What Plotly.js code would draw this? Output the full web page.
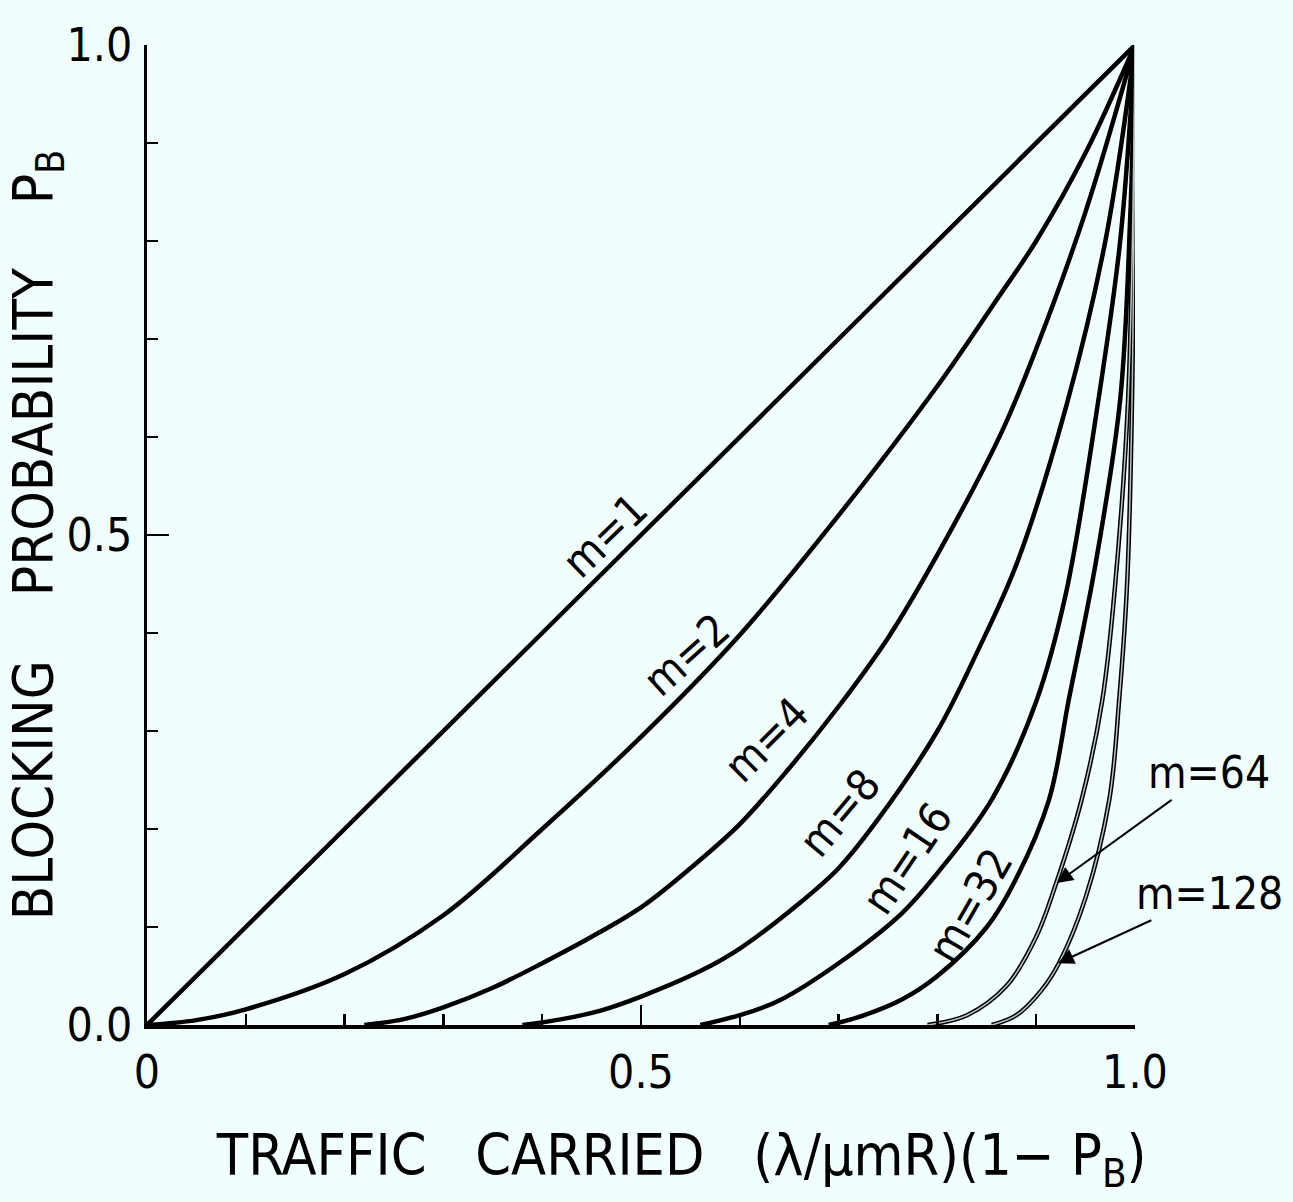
<!DOCTYPE html>
<html>
<head>
<meta charset="utf-8">
<script src="https://cdn.plot.ly/plotly-3.0.1.min.js"></script>
<style>
  html, body { margin: 0; padding: 0; background: #f0fffe; }
  #chart { width: 1293px; height: 1202px; }
</style>
</head>
<body>
<div id="chart"></div>
<script>
// ---- data ----
const seriesNames = ["m=1", "m=2", "m=4", "m=8", "m=16", "m=32", "m=64", "m=128"];

const x_m1 = [0, 0.25, 0.5, 0.75, 1.0];
const y_m1 = [0, 0.25, 0.5, 0.75, 1.0];

const x_m2 = [0, 0.05, 0.1, 0.2, 0.3, 0.4, 0.5, 0.6, 0.7, 0.8, 0.86, 0.9, 0.95, 1.0];
const y_m2 = [0, 0.005, 0.016, 0.052, 0.112, 0.200, 0.294, 0.398, 0.520, 0.652, 0.740, 0.800, 0.890, 1.0];

const x_m4 = [0.22, 0.26, 0.3, 0.35, 0.4, 0.45, 0.5, 0.55, 0.6, 0.65, 0.7, 0.75, 0.8, 0.865, 0.9, 0.95, 1.0];
const y_m4 = [0, 0.006, 0.018, 0.038, 0.063, 0.090, 0.120, 0.160, 0.205, 0.262, 0.325, 0.395, 0.480, 0.605, 0.690, 0.830, 1.0];

const x_m8 = [0.38, 0.42, 0.46, 0.5, 0.56, 0.6, 0.66, 0.7, 0.74, 0.8, 0.84, 0.88, 0.93, 0.97, 1.0];
const y_m8 = [0, 0.006, 0.015, 0.029, 0.055, 0.078, 0.124, 0.160, 0.210, 0.300, 0.380, 0.470, 0.630, 0.800, 1.0];

const x_m16 = [0.56, 0.6, 0.64, 0.7, 0.764, 0.8, 0.855, 0.9, 0.93, 0.963, 0.985, 1.0];
const y_m16 = [0, 0.010, 0.025, 0.063, 0.114, 0.155, 0.230, 0.330, 0.440, 0.638, 0.800, 1.0];

const x_m32 = [0.69, 0.72, 0.764, 0.8, 0.85, 0.88, 0.913, 0.933, 0.96, 0.985, 0.995, 1.0];
const y_m32 = [0, 0.008, 0.026, 0.050, 0.100, 0.150, 0.230, 0.332, 0.470, 0.638, 0.820, 1.0];

const x_m64 = [0.79, 0.83, 0.87, 0.9, 0.919, 0.946, 0.967, 0.98, 0.993, 1.0];
const y_m64 = [0, 0.010, 0.040, 0.090, 0.141, 0.230, 0.332, 0.450, 0.638, 1.0];

const x_m128 = [0.855, 0.88, 0.905, 0.923, 0.95, 0.974, 0.984, 0.992, 0.997, 1.0];
const y_m128 = [0, 0.010, 0.035, 0.063, 0.130, 0.230, 0.332, 0.450, 0.638, 1.0];

const xTickVals = [0, 0.5, 1.0];
const xTickText = ["0", "0.5", "1.0"];
const yTickVals = [0, 0.5, 1.0];
const yTickText = ["0.0", "0.5", "1.0"];

// ---- styling ----
const FONT = "'DejaVu Sans Condensed', 'DejaVu Sans', sans-serif";
const INK = "#000000";
const BG = "#f0fffe";
const NB = "\u00A0";
const ZW = "\u200B";

const xs = [x_m1, x_m2, x_m4, x_m8, x_m16, x_m32, x_m64, x_m128];
const ys = [y_m1, y_m2, y_m4, y_m8, y_m16, y_m32, y_m64, y_m128];

const traces = [];
xs.forEach((xv, i) => {
  traces.push({
    type: "scatter", mode: "lines", name: seriesNames[i],
    x: xv, y: ys[i],
    line: { color: INK, width: 4.5, shape: "spline", smoothing: 1.0 },
    hoverinfo: "name+x+y", showlegend: false
  });
});
// pale core for the two outlined curves (m=64, m=128)
[6, 7].forEach(i => {
  traces.push({
    type: "scatter", mode: "lines", name: seriesNames[i] + " core",
    x: xs[i], y: ys[i],
    line: { color: "#b8c4c4", width: 1.5, shape: "spline", smoothing: 1.0 },
    hoverinfo: "skip", showlegend: false
  });
});

const labelFont = { family: FONT, size: 44, color: INK };
const annotations = [
  { x: 0.463, y: 0.500, text: "m=1", textangle: -44 },
  { x: 0.546, y: 0.378, text: "m=2", textangle: -42 },
  { x: 0.627, y: 0.291, text: "m=4", textangle: -45 },
  { x: 0.701, y: 0.217, text: "m=8", textangle: -50 },
  { x: 0.769, y: 0.170, text: "m=16", textangle: -56 },
  { x: 0.833, y: 0.122, text: "m=32", textangle: -60 }
].map(a => Object.assign({ xref: "x", yref: "y", showarrow: false, font: labelFont }, a));

annotations.push({
  xref: "x", yref: "y", x: 0.921, y: 0.145, ax: 152, ay: -110,
  text: "m=64", showarrow: true, arrowhead: 2, arrowsize: 1.6, arrowwidth: 2,
  arrowcolor: INK, font: labelFont, xanchor: "center"
});
annotations.push({
  xref: "x", yref: "y", x: 0.922, y: 0.063, ax: 152, ay: -70,
  text: "m=128", showarrow: true, arrowhead: 2, arrowsize: 1.6, arrowwidth: 2,
  arrowcolor: INK, font: labelFont, xanchor: "center"
});

const xTitle = ZW + NB.repeat(5) + "TRAFFIC" + NB.repeat(3) + "CARRIED" + NB.repeat(3) + "(λ/μmR)(1−" + NB + "P<sub>B</sub>)";
const yTitle = "BLOCKING" + NB.repeat(4) + "PROBABILITY" + NB.repeat(4) + "P<sub>B</sub>";

const layout = {
  width: 1293, height: 1202,
  paper_bgcolor: BG, plot_bgcolor: BG,
  margin: { l: 147, r: 158, t: 45, b: 177 },
  showlegend: false,
  font: { family: FONT, color: INK },
  xaxis: {
    range: [0, 1], autorange: false, fixedrange: true,
    showgrid: false, zeroline: false,
    showline: true, linecolor: INK, linewidth: 3.5,
    tickmode: "array", tickvals: xTickVals, ticktext: xTickText,
    ticks: "inside", ticklen: 20, tickwidth: 2.5, tickcolor: INK,
    minor: { dtick: 0.1, ticks: "inside", ticklen: 11, tickwidth: 2.5, tickcolor: INK, showgrid: false },
    tickfont: { family: FONT, size: 46, color: INK },
    ticklabelstandoff: 4,
    title: { text: xTitle, font: { family: FONT, size: 57, color: INK }, standoff: 38 }
  },
  yaxis: {
    range: [0, 1], autorange: false, fixedrange: true,
    showgrid: false, zeroline: false,
    showline: true, linecolor: INK, linewidth: 3.5,
    tickmode: "array", tickvals: yTickVals, ticktext: yTickText,
    ticks: "inside", ticklen: 22, tickwidth: 2.5, tickcolor: INK,
    minor: { dtick: 0.1, ticks: "inside", ticklen: 11, tickwidth: 2.5, tickcolor: INK, showgrid: false },
    tickfont: { family: FONT, size: 46, color: INK },
    ticklabelstandoff: 2,
    title: { text: yTitle, font: { family: FONT, size: 56, color: INK }, standoff: 16 }
  },
  annotations: annotations
};

Plotly.newPlot("chart", traces, layout, { displayModeBar: false, staticPlot: true });
</script>
</body>
</html>
